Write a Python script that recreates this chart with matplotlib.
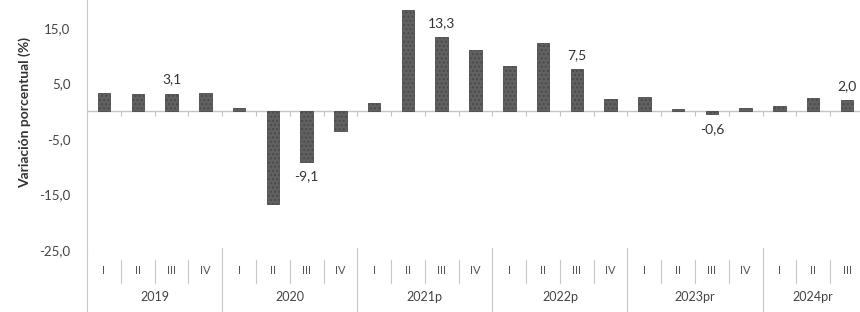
import numpy as np
import matplotlib.pyplot as plt
from matplotlib.transforms import blended_transform_factory

plt.rcParams['font.family'] = ['Lato', 'DejaVu Sans']

years = ['2019', '2020', '2021p', '2022p', '2023pr', '2024pr']
quarters_per_year = [4, 4, 4, 4, 4, 3]
quarter_names = ['I', 'II', 'III', 'IV']
values = [3.3, 3.0, 3.1, 3.2,
          0.5, -16.8, -9.1, -3.6,
          1.5, 18.2, 13.3, 11.0,
          8.2, 12.2, 7.5, 2.2,
          2.5, 0.4, -0.6, 0.6,
          0.9, 2.4, 2.0]
labelled = {2: '3,1', 6: '-9,1', 10: '13,3', 14: '7,5', 18: '-0,6', 22: '2,0'}
yticks = [-25, -15, -5, 5, 15]

fig = plt.figure(figsize=(8.6, 3.12), dpi=100)
ax = fig.add_axes([87.1 / 860, 62 / 312, 776.8 / 860, 250 / 312])

x = np.arange(len(values))
ax.bar(x, values, width=0.37, color='#616161', edgecolor='#4a4a4a',
       linewidth=0.6, hatch='....', zorder=3)
ax.axhline(0, color='#c4c4c4', linewidth=1, zorder=2)
# small ticks on zero line between bars
ax.vlines(x[:-1] + 0.5, -0.8, 0, color='#c4c4c4', linewidth=0.8)

ax.set_xlim(-0.5, len(values) - 0.5)
ax.set_ylim(-25, 20)
ax.set_yticks(yticks)
ax.set_yticklabels([f'{v:.1f}'.replace('.', ',') for v in yticks])
ax.tick_params(axis='y', length=0, pad=12, labelsize=9.5, labelcolor='#444444')
ax.set_xticks([])
for s in ['top', 'right', 'bottom']:
    ax.spines[s].set_visible(False)
ax.spines['left'].set_color('#c8c8c8')
ax.spines['left'].set_bounds(-25, 20)

ax.set_ylabel('Variación porcentual (%)', fontsize=10, fontweight='bold',
              color='#333333')
ax.yaxis.set_label_coords(-0.072, 0.55)

for i, txt in labelled.items():
    v = values[i]
    if v >= 0:
        ax.annotate(txt, (i, v), xytext=(0, 6), textcoords='offset points',
                    ha='center', va='bottom', fontsize=10, color='#333333')
    else:
        ax.annotate(txt, (i, v), xytext=(0, -6), textcoords='offset points',
                    ha='center', va='top', fontsize=10, color='#333333')

# multi-level category axis
tr = blended_transform_factory(ax.transData, ax.transAxes)
pos = 0
sep_kw = dict(color='#c8c8c8', linewidth=0.8, clip_on=False, transform=tr)
ax.plot([-0.5, -0.5], [0, -0.25], **sep_kw)
for yr, nq in zip(years, quarters_per_year):
    for q in range(nq):
        ax.text(pos + q, -0.08, quarter_names[q], transform=tr, ha='center',
                va='center', fontsize=8, color='#555555')
        if q < nq - 1:
            ax.plot([pos + q + 0.5] * 2, [-0.04, -0.13], **sep_kw)
    ax.text(pos + (nq - 1) / 2, -0.188, yr, transform=tr, ha='center',
            va='center', fontsize=9, color='#444444')
    end = pos + nq - 0.5
    ax.plot([end, end], [0.01, -0.25], **sep_kw)
    pos += nq

fig.savefig('out.png', dpi=100)
